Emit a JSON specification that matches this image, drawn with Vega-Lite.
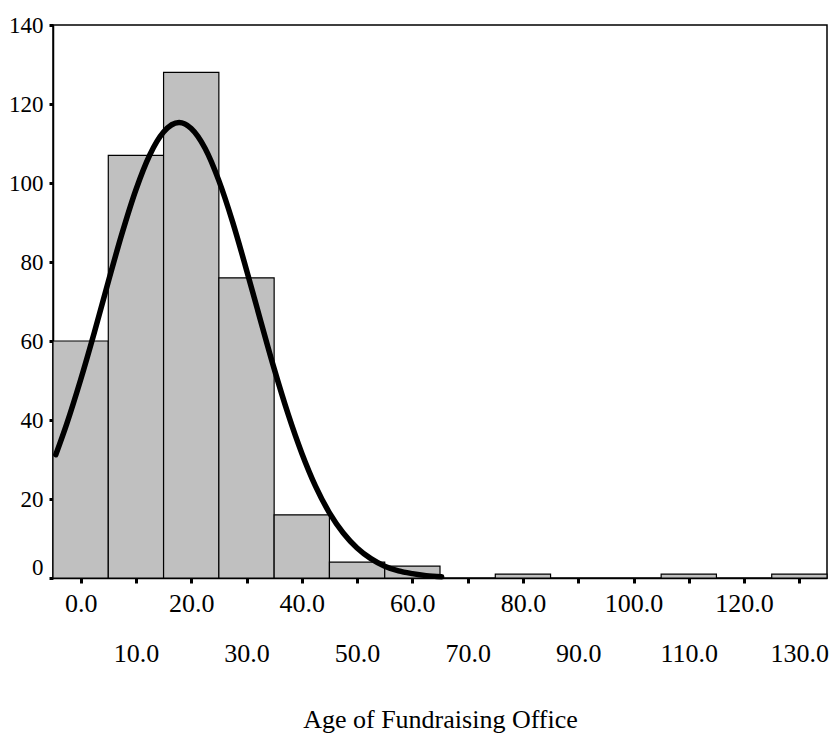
{
  "$schema": "https://vega.github.io/schema/vega-lite/v6.json",
  "width": 774,
  "height": 553,
  "autosize": "none",
  "padding": {"left": 53, "top": 25, "right": 4, "bottom": 155},
  "background": "white",
  "config": {
    "font": "Liberation Serif",
    "view": {"stroke": "black", "strokeWidth": 1.5}
  },
  "layer": [
    {
      "data": {
        "values": [
          {"bin_start": -5, "bin_end": 5, "count": 60},
          {"bin_start": 5, "bin_end": 15, "count": 107},
          {"bin_start": 15, "bin_end": 25, "count": 128},
          {"bin_start": 25, "bin_end": 35, "count": 76},
          {"bin_start": 35, "bin_end": 45, "count": 16},
          {"bin_start": 45, "bin_end": 55, "count": 4},
          {"bin_start": 55, "bin_end": 65, "count": 3},
          {"bin_start": 65, "bin_end": 75, "count": 0},
          {"bin_start": 75, "bin_end": 85, "count": 1},
          {"bin_start": 85, "bin_end": 95, "count": 0},
          {"bin_start": 95, "bin_end": 105, "count": 0},
          {"bin_start": 105, "bin_end": 115, "count": 1},
          {"bin_start": 115, "bin_end": 125, "count": 0},
          {"bin_start": 125, "bin_end": 135, "count": 1}
        ]
      },
      "transform": [{"filter": "datum.count > 0"}],
      "mark": {"type": "bar", "fill": "#c0c0c0", "stroke": "black", "strokeWidth": 1.2, "opacity": 1},
      "encoding": {
        "x": {
          "field": "bin_start",
          "type": "quantitative",
          "scale": {"domain": [-5, 135], "nice": false, "zero": false},
          "axis": {
            "values": [0, 10, 20, 30, 40, 50, 60, 70, 80, 90, 100, 110, 120, 130],
            "format": ".1f",
            "labelExpr": "datum.value % 20 === 0 ? datum.label : ['', datum.label]",
            "labelLineHeight": 50,
            "labelBaseline": "top",
            "labelFontSize": 26,
            "labelColor": "black",
            "labelPadding": 7,
            "labelOverlap": false,
            "labelFlush": false,
            "labelBound": false,
            "grid": false,
            "domainColor": "black",
            "domainWidth": 1.5,
            "tickColor": "black",
            "tickSize": 5,
            "tickWidth": 3,
            "title": "Age of Fundraising Office",
            "titleFont": "Liberation Serif",
            "titleFontSize": 26,
            "titleFontWeight": "normal",
            "titleColor": "black",
            "titleBaseline": "alphabetic",
            "titleY": 149
          }
        },
        "x2": {"field": "bin_end"},
        "y": {
          "field": "count",
          "type": "quantitative",
          "scale": {"domain": [0, 140], "nice": false},
          "axis": {
            "values": [0, 20, 40, 60, 80, 100, 120, 140],
            "title": null,
            "grid": false,
            "labelFontSize": 23,
            "labelColor": "black",
            "labelPadding": 6,
            "labelOffset": {"condition": {"test": "datum.value === 0", "value": -11}, "value": 0},
            "labelFlush": false,
            "labelBound": false,
            "domainColor": "black",
            "domainWidth": 1.5,
            "tickColor": "black",
            "tickSize": 4,
            "tickWidth": 3
          }
        },
        "y2": {"datum": 0}
      }
    },
    {
      "data": {
        "values": [
          {"age": -4.5, "fitted": 31.2},
          {"age": -2.5, "fitted": 39.1},
          {"age": 0, "fitted": 50.2},
          {"age": 2.5, "fitted": 62.3},
          {"age": 5, "fitted": 75.0},
          {"age": 7.5, "fitted": 87.3},
          {"age": 10, "fitted": 98.3},
          {"age": 12.5, "fitted": 107.1},
          {"age": 15, "fitted": 112.9},
          {"age": 17.8, "fitted": 115.3},
          {"age": 20, "fitted": 113.8},
          {"age": 22.5, "fitted": 108.8},
          {"age": 25, "fitted": 100.6},
          {"age": 27.5, "fitted": 90.1},
          {"age": 30, "fitted": 78.0},
          {"age": 32.5, "fitted": 65.4},
          {"age": 35, "fitted": 53.0},
          {"age": 37.5, "fitted": 41.6},
          {"age": 40, "fitted": 31.6},
          {"age": 42.5, "fitted": 23.2},
          {"age": 45, "fitted": 16.5},
          {"age": 47.5, "fitted": 11.4},
          {"age": 50, "fitted": 7.6},
          {"age": 52.5, "fitted": 4.9},
          {"age": 55, "fitted": 3.0},
          {"age": 57.5, "fitted": 1.8},
          {"age": 60, "fitted": 1.1},
          {"age": 62.5, "fitted": 0.6},
          {"age": 65.3, "fitted": 0.3}
        ]
      },
      "mark": {"type": "line", "color": "black", "strokeWidth": 5.5, "interpolate": "monotone", "strokeCap": "round"},
      "encoding": {
        "x": {"field": "age", "type": "quantitative"},
        "y": {"field": "fitted", "type": "quantitative"}
      }
    }
  ]
}
